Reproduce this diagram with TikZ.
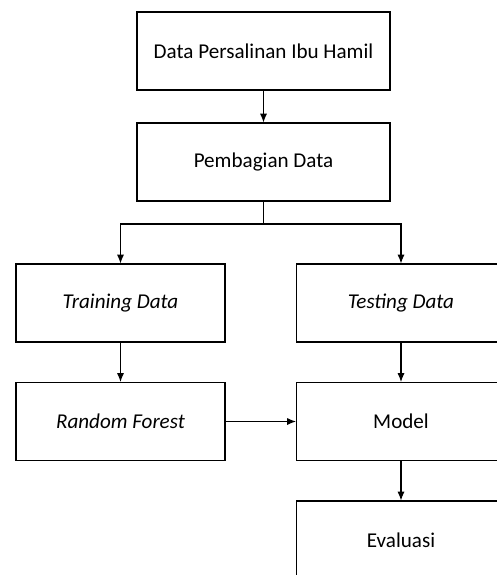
\documentclass[tikz,border=0pt]{standalone}
\usepackage{fontspec}
\setmainfont{Carlito}
\usetikzlibrary{arrows.meta,positioning}

\begin{document}
\begin{tikzpicture}[>={Latex[length=5pt,width=4pt]}, line width=0.6pt,
    box/.style={draw, align=center, minimum width=4.18cm, minimum height=1.56cm, inner sep=0pt, font=\fontsize{12}{14}\selectfont},
    widebox/.style={box, minimum width=5.06cm}]
    \useasboundingbox (0,0) rectangle (9.94,-11.5);
    \node[widebox] (data) at (5.27,-1.02) {Data Persalinan Ibu Hamil};
    \node[widebox] (split) at (5.27,-3.24) {Pembagian Data};
    \node[box] (train) at (2.41,-6.06) {\textit{Training Data}};
    \node[box] (test) at (8.02,-6.06) {\textit{Testing Data}};
    \node[box] (rf) at (2.41,-8.43) {\textit{Random Forest}};
    \node[box] (model) at (8.02,-8.43) {Model};
    \node[box] (eval) at (8.02,-10.8) {Evaluasi};
    \coordinate (fork) at (5.27,-4.48);
    \draw[->] (data) -- (split);
    \draw (split) -- (fork);
    \draw[->] (fork) -| (train);
    \draw[->] (fork) -| (test);
    \draw[->] (train) -- (rf);
    \draw[->] (test) -- (model);
    \draw[->] (rf) -- (model);
    \draw[->] (model) -- (eval);
  \end{tikzpicture}
\end{document}
